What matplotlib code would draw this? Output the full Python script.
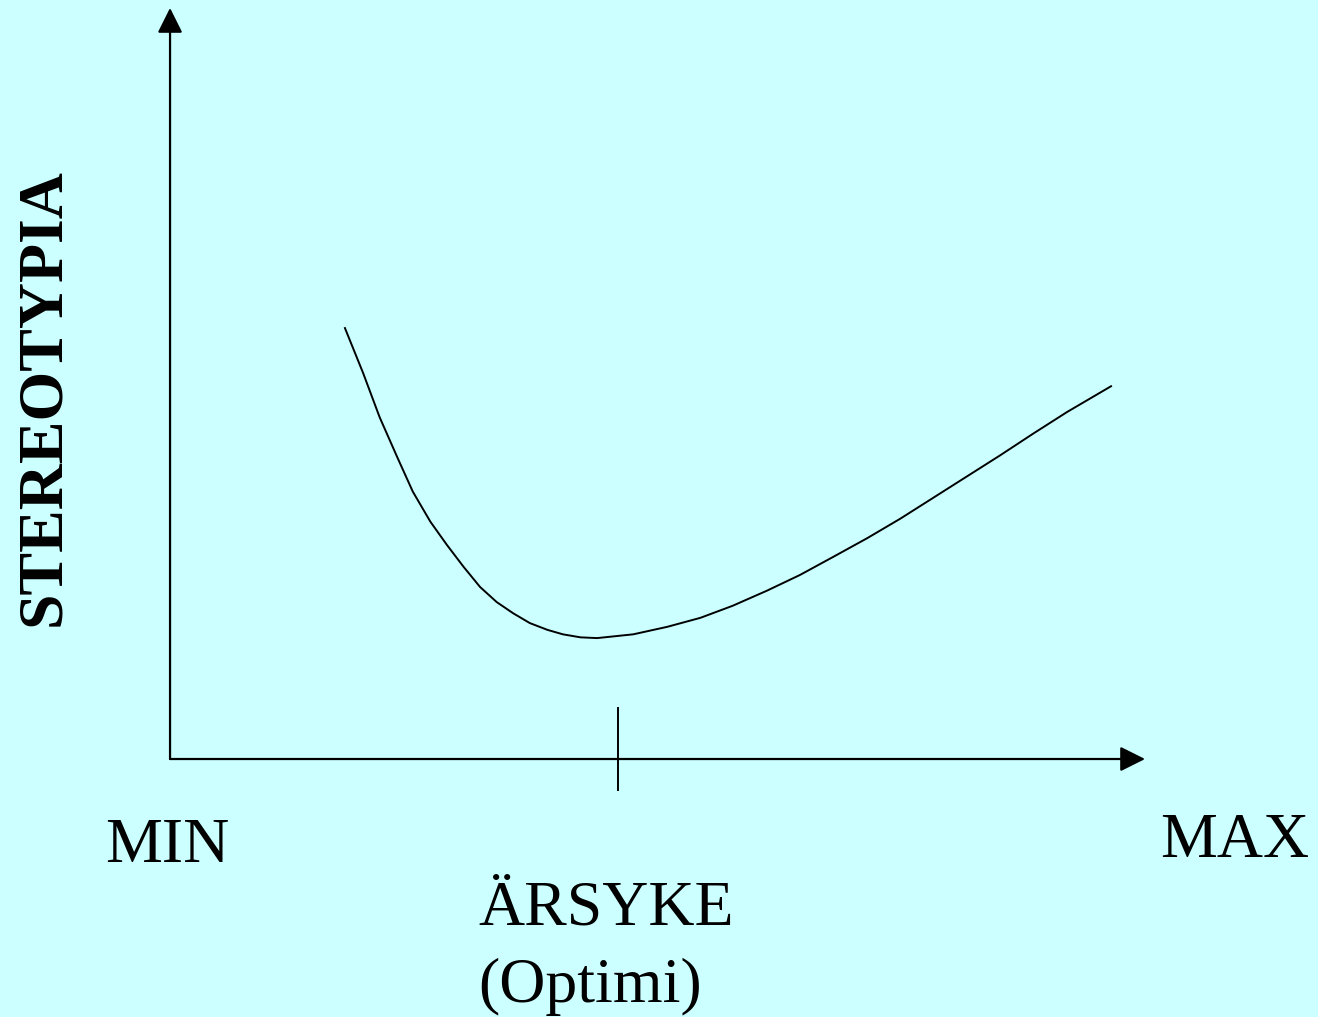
import matplotlib
matplotlib.use("Agg")
import matplotlib.pyplot as plt

# curve (x: MIN=0 .. MAX=100, y: stereotypia 0..100)
curve_x = [17.9, 19.8, 21.5, 23.3, 24.9, 26.7, 28.4, 30.1, 31.8, 33.5, 35.2, 36.9,
           38.7, 40.3, 42.1, 43.8, 47.5, 51.0, 54.4, 57.7, 61.2, 64.6, 68.0, 71.5,
           74.9, 78.3, 81.7, 85.1, 88.5, 92.0, 96.6]
curve_y = [57.5, 51.4, 45.5, 40.2, 35.6, 31.6, 28.5, 25.6, 22.9, 20.9, 19.4, 18.1,
           17.2, 16.6, 16.2, 16.1, 16.6, 17.6, 18.8, 20.4, 22.4, 24.5, 26.9, 29.4,
           32.0, 34.8, 37.6, 40.4, 43.3, 46.2, 49.7]
optimum_x = 45.9
axis_max = 100

bg = "#ccffff"
serif = ["Liberation Serif", "DejaVu Serif"]

fig = plt.figure(figsize=(13.18, 10.17), dpi=100, facecolor=bg)
ax = fig.add_axes([0, 0, 1, 1])
ax.set_facecolor(bg)
ax.set_xlim(-17.44, 117.74)
ax.set_ylim(-34.35, 101.06)
ax.axis("off")

# axes with arrow heads
arrow = dict(arrowstyle="-|>,head_length=0.9,head_width=0.45", color="black",
             lw=1.6, mutation_scale=17, shrinkA=0, shrinkB=0)
ax.annotate("", xy=(0, axis_max), xytext=(0, 0), arrowprops=arrow)
ax.annotate("", xy=(axis_max, 0), xytext=(0, 0), arrowprops=arrow)

# optimum tick
ax.plot([optimum_x, optimum_x], [6.8, -4.1], color="black", lw=1.4)

# the U-shaped curve
ax.plot(curve_x, curve_y, color="black", lw=1.4, solid_joinstyle="round",
        solid_capstyle="butt")

ax.text(-6.7, -13.7, "MIN", fontsize=46, family=serif, va="baseline", ha="left")
ax.text(101.5, -13.1, "MAX", fontsize=46, family=serif, va="baseline", ha="left")
ax.text(31.6, -22.1, "ÄRSYKE", fontsize=46, family=serif, va="baseline", ha="left")
ax.text(31.6, -32.4, "(Optimi)", fontsize=46, family=serif, va="baseline", ha="left")
ax.text(-12.9, 48.2, "STEREOTYPIA", fontsize=46, family=serif, fontweight="bold",
        rotation=90, va="center", ha="center")

fig.savefig("out.png", dpi=100, facecolor=bg)
